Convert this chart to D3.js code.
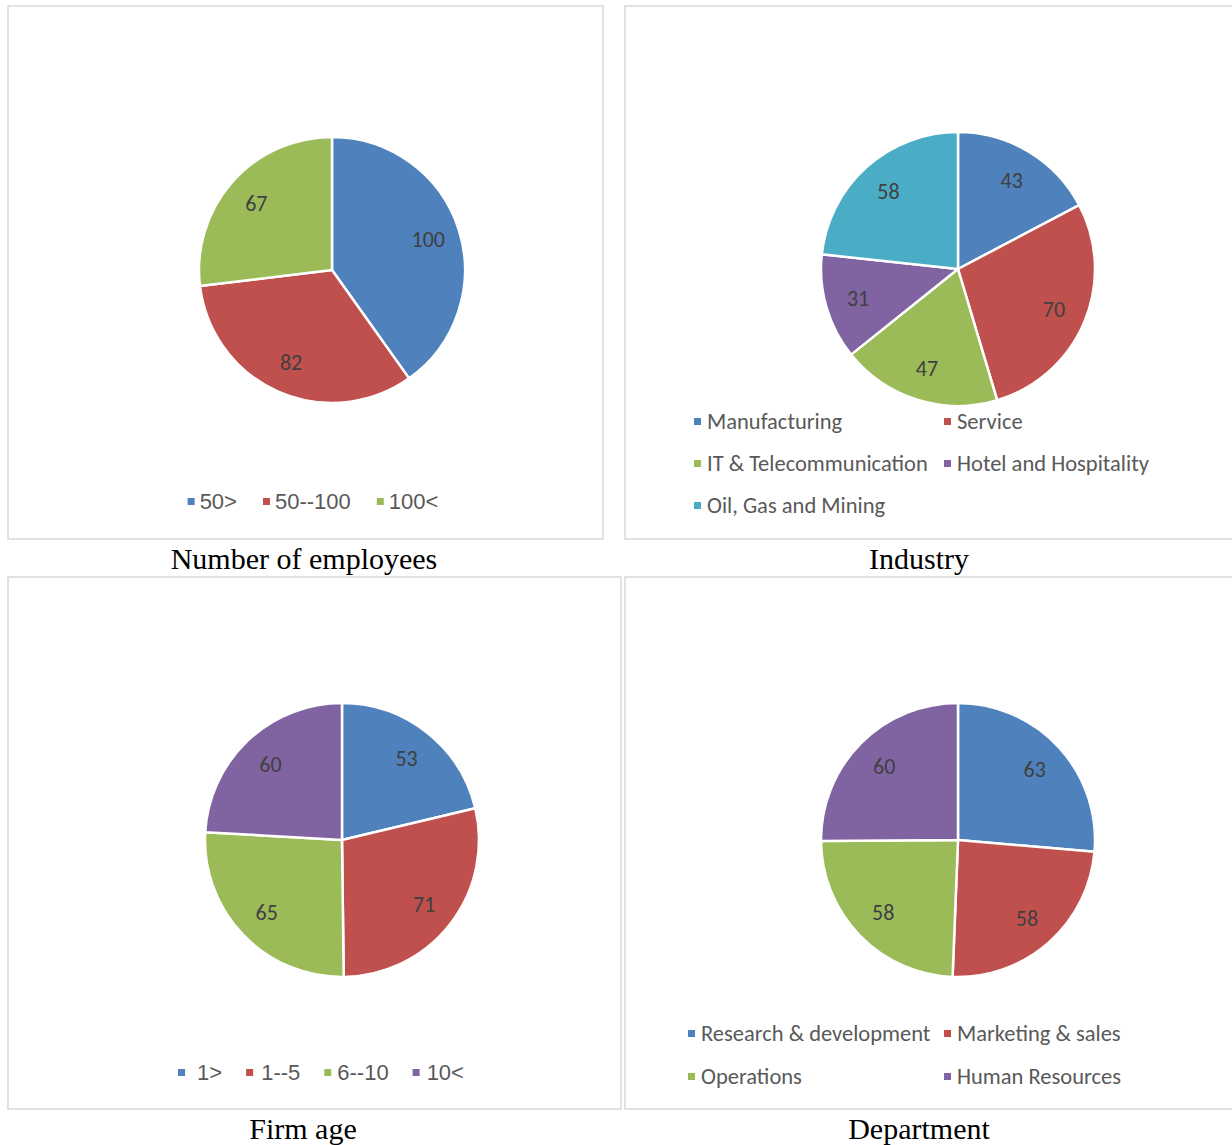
<!DOCTYPE html>
<html>
<head>
<meta charset="utf-8">
<script src="https://cdn.jsdelivr.net/npm/d3@7"></script>
<style>
  body { margin: 0; background: #fff; }
</style>
</head>
<body>
<svg id="drawing_region"></svg>
<script>
// data
const employeeCats = ['50>', '50--100', '100<'];
const employeeVals = [100, 82, 67];

const industryCats = ['Manufacturing', 'Service', 'IT & Telecommunication', 'Hotel and Hospitality', 'Oil, Gas and Mining'];
const industryVals = [43, 70, 47, 31, 58];

const ageCats = ['1>', '1--5', '6--10', '10<'];
const ageVals = [53, 71, 65, 60];

const deptCats = ['Research & development', 'Marketing & sales', 'Operations', 'Human Resources'];
const deptVals = [63, 58, 58, 60];

const colors = ['#4f81bd', '#c0504d', '#9bbb59', '#8064a2', '#4bacc6'];

const svg = d3.select('#drawing_region')
    .attr('width', 1232)
    .attr('height', 1145);

function drawPanel(cfg, cats, vals) {
    const data = cats.map((c, i) => ({ cat: c, val: vals[i] }));
    const color = d3.scaleOrdinal().domain(cats).range(colors);

    // frame
    svg.append('rect')
        .attr('x', cfg.box[0]).attr('y', cfg.box[1])
        .attr('width', cfg.box[2]).attr('height', cfg.box[3])
        .attr('fill', '#fff')
        .attr('stroke', '#d9d9d9')
        .attr('stroke-width', 1.5);

    const g = svg.append('g')
        .attr('transform', `translate(${cfg.cx}, ${cfg.cy})`);

    const pie = d3.pie().sort(null).value(d => d.val);
    const arc = d3.arc().innerRadius(0).outerRadius(cfg.r);
    const labelArc = d3.arc().innerRadius(cfg.r * 0.76).outerRadius(cfg.r * 0.76);

    const arcs = pie(data);

    g.selectAll('path').data(arcs).enter()
        .append('path')
        .attr('d', arc)
        .attr('fill', d => color(d.data.cat))
        .attr('stroke', '#fff')
        .attr('stroke-width', 2.5)
        .attr('stroke-linejoin', 'round');

    g.selectAll('text.lbl').data(arcs).enter()
        .append('text')
        .attr('class', 'lbl')
        .attr('transform', d => `translate(${labelArc.centroid(d)})`)
        .attr('text-anchor', 'middle')
        .attr('dy', '0.35em')
        .style('font-family', "Carlito, 'Open Sans', sans-serif")
        .style('font-size', '22px')
        .style('fill', '#404040')
        .text(d => d.data.val);

    // legend
    const lg = svg.append('g');
    if (cfg.legend.type === 'row') {
        let x = 0;
        const items = lg.append('g');
        data.forEach((d, i) => {
            items.append('rect')
                .attr('x', x).attr('y', -11)
                .attr('width', 7).attr('height', 7)
                .attr('fill', color(d.cat));
            const t = items.append('text')
                .attr('x', x + 7 + cfg.legend.gap[i])
                .attr('y', 0)
                .style('font-family', cfg.legend.font)
                .style('font-size', cfg.legend.size)
                .style('fill', '#595959')
                .text(d.cat);
            x += 7 + cfg.legend.gap[i] + t.node().getComputedTextLength() + cfg.legend.space;
        });
        const w = x - cfg.legend.space;
        items.attr('transform', `translate(${cfg.legend.center - w / 2}, ${cfg.legend.y})`);
    } else {
        data.forEach((d, i) => {
            const col = i % 2, row = Math.floor(i / 2);
            const x = cfg.legend.cols[col], y = cfg.legend.rows[row];
            lg.append('rect')
                .attr('x', x).attr('y', y - 11)
                .attr('width', 7).attr('height', 7)
                .attr('fill', color(d.cat));
            lg.append('text')
                .attr('x', x + 13)
                .attr('y', y)
                .style('font-family', cfg.legend.font)
                .style('font-size', cfg.legend.size)
                .style('fill', '#595959')
                .text(d.cat);
        });
    }

    svg.append('text')
        .attr('x', cfg.title[0])
        .attr('y', cfg.title[1])
        .attr('text-anchor', 'middle')
        .style('font-family', "'Liberation Serif', 'Times New Roman', serif")
        .style('font-size', '30px')
        .style('fill', '#000')
        .text(cfg.title[2]);
}

drawPanel({
    box: [8, 6, 595, 533], cx: 332, cy: 270, r: 133,
    legend: { type: 'row', center: 313, y: 509, gap: [5, 5, 5], space: 26,
              font: "'Liberation Sans', Arial, sans-serif", size: '22px' },
    title: [304, 569, 'Number of employees']
}, employeeCats, employeeVals);

drawPanel({
    box: [625, 6, 620, 533], cx: 958, cy: 269, r: 137,
    legend: { type: 'grid', cols: [694, 944], rows: [429, 471, 513],
              font: "Carlito, 'Open Sans', sans-serif", size: '22.5px' },
    title: [919, 569, 'Industry']
}, industryCats, industryVals);

drawPanel({
    box: [8, 577, 613, 532], cx: 342, cy: 840, r: 137,
    legend: { type: 'row', center: 321, y: 1080, gap: [12, 8, 6, 7], space: 24,
              font: "'Liberation Sans', Arial, sans-serif", size: '22px' },
    title: [303, 1139, 'Firm age']
}, ageCats, ageVals);

drawPanel({
    box: [625, 577, 620, 532], cx: 958, cy: 840, r: 137,
    legend: { type: 'grid', cols: [688, 944], rows: [1041, 1084],
              font: "Carlito, 'Open Sans', sans-serif", size: '22.5px' },
    title: [919, 1139, 'Department']
}, deptCats, deptVals);
</script>
</body>
</html>
